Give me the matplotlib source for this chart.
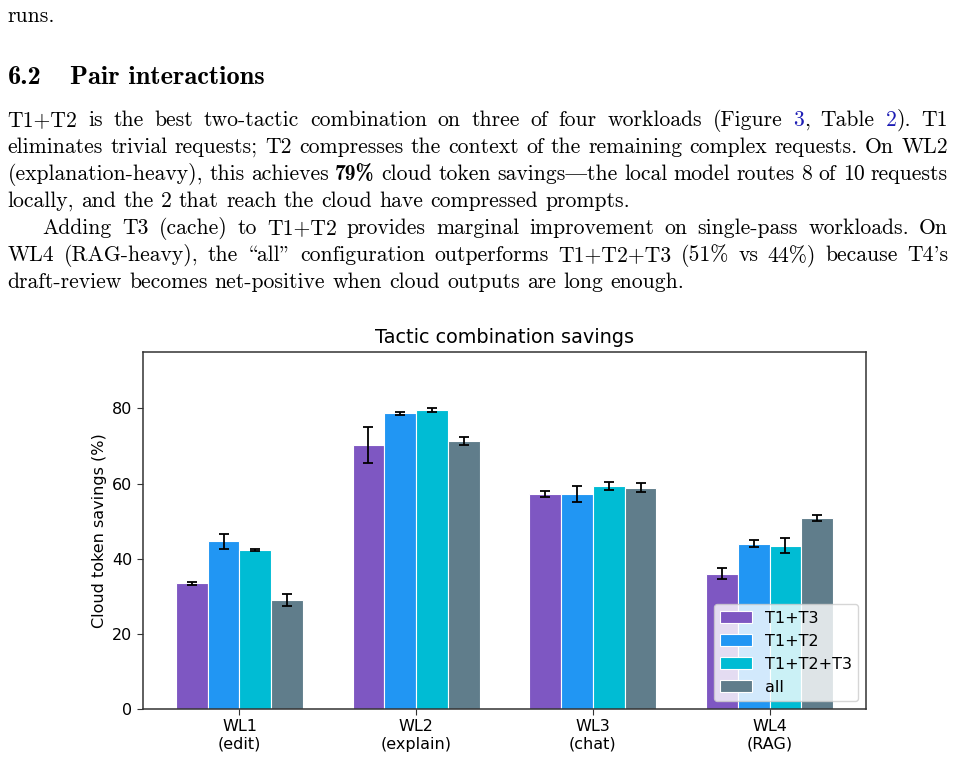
import numpy as np
import matplotlib.pyplot as plt

# --------------- Chart data ---------------
workloads = ['WL1\n(edit)', 'WL2\n(explain)', 'WL3\n(chat)', 'WL4\n(RAG)']
configs = ['T1+T3', 'T1+T2', 'T1+T2+T3', 'all']
colors = ['#7E57C2', '#2196F3', '#00BCD4', '#607D8B']
savings = [[33.4, 70.2, 57.2, 36.0],
           [44.7, 78.7, 57.2, 44.0],
           [42.4, 79.5, 59.3, 43.5],
           [29.1, 71.4, 58.9, 50.8]]
errors = [[0.4, 4.8, 0.7, 1.5],
          [2.0, 0.45, 2.2, 1.0],
          [0.3, 0.5, 1.0, 1.9],
          [1.6, 1.1, 1.15, 0.8]]

# --------------- Page text (cmr10 uses TeX positions: \ = open quote, | = em dash) ---------------
heading = ['6.2', 'Pair interactions']
para_lines = [
    ['T1+T2', 'is', 'the', 'best', 'two-tactic', 'combination', 'on', 'three', 'of', 'four',
     'workloads', '(Figure', [('3', 'link'), (',', 'r')], 'Table', [('2', 'link'), (').', 'r')], 'T1'],
    'eliminates trivial requests; T2 compresses the context of the remaining complex requests. On WL2'.split(),
    ['(explanation-heavy),', 'this', 'achieves', [('79%', 'b')], 'cloud', 'token', 'savings|the',
     'local', 'model', 'routes', '8', 'of', '10', 'requests'],
    'locally, and the 2 that reach the cloud have compressed prompts.'.split(),
    'Adding T3 (cache) to T1+T2 provides marginal improvement on single-pass workloads. On'.split(),
    'WL4 (RAG-heavy), the \\all" configuration outperforms T1+T2+T3 (51% vs 44%) because T4\'s'.split(),
    'draft-review becomes net-positive when cloud outputs are long enough.'.split(),
]
line_justified = [True, True, True, False, True, True, False]
line_indent = [0, 0, 0, 0, 35, 0, 0]

W, H = 955, 760
fig = plt.figure(figsize=(W / 100, H / 100), dpi=100)
renderer = fig.canvas.get_renderer()

body = 15.6
fonts = {'r': 'cmr10', 'b': 'cmb10', 'link': 'cmr10'}
tcolors = {'r': 'black', 'b': 'black', 'link': '#1c1cb4'}


def put(x, y, s, style='r', size=body):
    return fig.text(x / W, 1 - y / H, s, family=[fonts[style], 'DejaVu Serif'], size=size,
                    color=tcolors[style], va='baseline', ha='left')


def draw_line(words, y, x0, x1, justify):
    pieces = []
    widths = []
    for wd in words:
        if isinstance(wd, str):
            wd = [(wd, 'r')]
        ts = [put(0, y, s, st) for s, st in wd]
        ws = [t.get_window_extent(renderer).width for t in ts]
        pieces.append((ts, ws))
        widths.append(sum(ws))
    if justify:
        gap = (x1 - x0 - sum(widths)) / (len(words) - 1)
    else:
        gap = 0.333 * body * 100 / 72
    x = x0
    for (ts, ws), wtot in zip(pieces, widths):
        xx = x
        for t, w in zip(ts, ws):
            t.set_x(xx / W)
            xx += w
        x += wtot + gap


put(7.5, 21.7, 'runs.')
put(7.5, 84, heading[0], 'b', 19)
put(69.5, 84, heading[1], 'b', 19)
for i, words in enumerate(para_lines):
    draw_line(words, 125.7 + 27.1 * i, 7.5 + line_indent[i], 948, line_justified[i])

# --------------- Chart ---------------
ax = fig.add_axes([143 / W, 1 - 709 / H, (866 - 143) / W, (709 - 352) / H])
x = np.arange(len(workloads))
w = 0.18
for i in range(len(configs)):
    ax.bar(x + (i - 1.5) * w, savings[i], w, yerr=errors[i], color=colors[i],
           edgecolor='white', linewidth=0.8, label=configs[i], capsize=3.3,
           error_kw=dict(elinewidth=1.3, capthick=1.3, ecolor='black'))

ax.set_ylim(0, 95)
ax.set_yticks([0, 20, 40, 60, 80])
ax.set_xticks(x, workloads)
ax.tick_params(labelsize=11.5, length=4, color='#333333')
ax.set_ylabel('Cloud token savings (%)', fontsize=11.5)
ax.set_title('Tactic combination savings', fontsize=13.9, pad=6.5)
for sp in ax.spines.values():
    sp.set_color('#333333')
    sp.set_linewidth(1.1)
ax.legend(loc='lower right', fontsize=11.5)

fig.savefig('out.png', dpi=100)
